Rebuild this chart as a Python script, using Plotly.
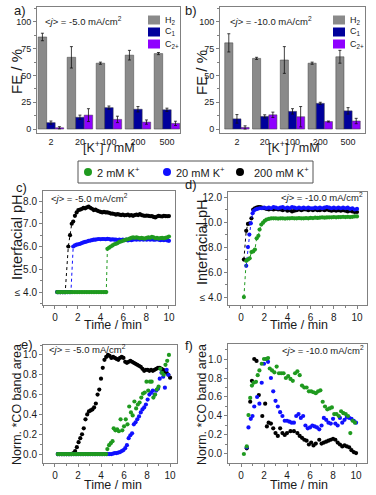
import plotly.graph_objects as go

# ---------------- data ----------------
K_CATS = ["2", "20", "100", "200", "500"]

A_H2 = [86, 67, 61.5, 69, 70.5]
A_H2_ERR = [3.5, 10, 1, 4.5, 1]
A_C1 = [6, 11, 20, 18.5, 18]
A_C1_ERR = [1.5, 2, 1.5, 2.5, 1.5]
A_C2 = [1.2, 13, 9, 6.5, 5.3]
A_C2_ERR = [1, 6, 3, 2, 2]

B_H2 = [80.5, 66, 64.5, 61.5, 67.5]
B_H2_ERR = [8.5, 1, 12.5, 1, 6]
B_C1 = [9.5, 11.8, 16.5, 24, 17]
B_C1_ERR = [4, 1.5, 2.5, 1, 3]
B_C2 = [1.5, 13.3, 11.5, 7, 7.5]
B_C2_ERR = [1.5, 2.5, 9.5, 0.5, 2.5]

# (time / min, interfacial pH) at -5.0 mA/cm2
C_BLACK = [(0.2,4.0),(0.35,4.0),(0.5,4.0),(0.65,4.0),(0.8,4.0),(0.9,4.0),(1.17,6.0),(1.32,6.5),(1.47,7.0),
           (1.6,7.1),(1.75,7.35),(1.9,7.5),(2.05,7.6),(2.2,7.62),(2.35,7.65),(2.5,7.7),(2.65,7.68),(2.8,7.72),(2.95,7.75),
           (3.1,7.7),(3.25,7.66),(3.4,7.6),(3.55,7.62),(3.7,7.58),(3.85,7.55),(4.0,7.52),(4.15,7.5),(4.3,7.52),(4.45,7.5),
           (4.6,7.5),(4.75,7.48),(4.9,7.45),(5.05,7.45),(5.2,7.43),(5.35,7.4),(5.5,7.42),(5.65,7.4),(5.8,7.38),(5.95,7.4),
           (6.1,7.37),(6.25,7.38),(6.4,7.4),(6.55,7.36),(6.7,7.38),(6.85,7.35),(7.0,7.38),(7.15,7.4),(7.3,7.38),(7.45,7.42),
           (7.6,7.38),(7.75,7.36),(7.9,7.35),(8.05,7.36),(8.2,7.35),(8.35,7.33),(8.5,7.34),(8.65,7.3),(8.8,7.28),(8.95,7.32),
           (9.1,7.35),(9.25,7.33),(9.4,7.32),(9.55,7.35),(9.7,7.34),(9.85,7.33),(10.0,7.34)]
C_BLUE = [(0.2,4.0),(0.35,4.0),(0.5,4.0),(0.65,4.0),(0.8,4.0),(0.95,4.0),(1.1,4.0),(1.25,4.0),(1.4,4.0),
          (1.6,6.0),(1.75,6.05),(1.9,6.08),(2.05,6.1),(2.2,6.12),(2.35,6.15),(2.5,6.18),(2.65,6.2),(2.8,6.22),(2.95,6.25),
          (3.1,6.26),(3.25,6.28),(3.4,6.3),(3.55,6.3),(3.7,6.32),(3.85,6.33),(4.0,6.32),(4.15,6.33),(4.3,6.33),(4.45,6.32),
          (4.6,6.34),(4.75,6.33),(4.9,6.3),(5.05,6.32),(5.2,6.3),(5.35,6.3),(5.5,6.28),(5.65,6.3),(5.8,6.28),(5.95,6.3),
          (6.1,6.28),(6.25,6.3),(6.4,6.27),(6.55,6.3),(6.7,6.28),(6.85,6.3),(7.0,6.32),(7.15,6.3),(7.3,6.32),(7.45,6.3),
          (7.6,6.33),(7.75,6.3),(7.9,6.32),(8.05,6.3),(8.2,6.33),(8.35,6.3),(8.5,6.32),(8.65,6.3),(8.8,6.3),(8.95,6.32),
          (9.1,6.3),(9.25,6.28),(9.4,6.3),(9.55,6.28),(9.7,6.3),(9.85,6.27),(10.0,6.25)]
C_GREEN = [(0.2,4.0),(0.35,4.0),(0.5,4.0),(0.65,4.0),(0.8,4.0),(0.95,4.0),(1.1,4.0),(1.25,4.0),(1.4,4.0),(1.55,4.0),
           (1.7,4.0),(1.85,4.0),(2.0,4.0),(2.15,4.0),(2.3,4.0),(2.45,4.0),(2.6,4.0),(2.75,4.0),(2.9,4.0),(3.05,4.0),
           (3.2,4.0),(3.35,4.0),(3.5,4.0),(3.65,4.0),(3.8,4.0),(3.95,4.0),(4.1,4.0),(4.25,4.0),(4.4,4.0),(4.5,4.0),
           (4.6,5.9),(4.75,5.95),(4.9,6.0),(5.05,6.05),(5.2,6.1),(5.35,6.12),(5.5,6.15),(5.65,6.2),(5.8,6.22),(5.95,6.25),
           (6.1,6.28),(6.25,6.3),(6.4,6.32),(6.55,6.35),(6.7,6.38),(6.85,6.4),(7.0,6.38),(7.15,6.4),(7.3,6.38),(7.45,6.36),
           (7.6,6.38),(7.75,6.36),(7.9,6.35),(8.05,6.38),(8.2,6.4),(8.35,6.38),(8.5,6.42),(8.65,6.4),(8.8,6.36),(8.95,6.38),
           (9.1,6.35),(9.25,6.37),(9.4,6.38),(9.55,6.36),(9.7,6.38),(9.85,6.4),(10.0,6.44)]

# (time / min, interfacial pH) at -10.0 mA/cm2
D_BLACK = [(0.25,7.0),(0.45,9.3),(0.6,9.85),(0.75,9.9),(0.9,10.3),(1.05,11.0),(1.2,11.1),(1.35,11.15),(1.5,11.2),(1.65,11.2),
           (1.8,11.15),(2.0,11.1),(2.2,11.05),(2.4,11.0),(2.6,11.05),(2.8,11.0),(3.0,11.05),(3.2,11.0),(3.4,11.0),(3.6,10.95),
           (3.8,11.0),(4.0,10.9),(4.2,10.95),(4.4,10.85),(4.6,10.9),(4.8,10.95),(5.0,11.0),(5.2,10.95),(5.4,11.0),(5.6,11.0),
           (5.8,10.95),(6.0,11.0),(6.2,10.95),(6.4,11.0),(6.6,10.95),(6.8,10.95),(7.0,11.0),(7.2,10.95),(7.4,11.0),(7.6,10.95),
           (7.8,10.9),(8.0,10.95),(8.2,10.9),(8.4,10.95),(8.6,10.9),(8.8,10.95),(9.0,10.9),(9.2,10.85),(9.4,10.9),(9.6,10.85),
           (9.8,10.8),(10.0,10.8)]
D_BLUE = [(0.45,6.5),(0.6,8.0),(0.72,9.0),(0.85,9.9),(1.0,10.7),(1.1,10.9),(1.25,11.0),(1.4,11.05),(1.6,11.1),(1.8,11.1),
          (2.0,11.15),(2.2,11.1),(2.4,11.15),(2.6,11.1),(2.8,11.2),(3.0,11.15),(3.2,11.1),(3.4,11.15),(3.6,11.2),(3.8,11.1),
          (4.0,11.15),(4.2,11.1),(4.4,11.2),(4.6,11.15),(4.8,11.1),(5.0,11.15),(5.2,11.1),(5.4,11.15),(5.6,11.1),(5.8,11.15),
          (6.0,11.1),(6.2,11.1),(6.4,11.15),(6.6,11.1),(6.8,11.15),(7.0,11.1),(7.2,11.15),(7.4,11.2),(7.6,11.15),(7.8,11.1),
          (8.0,11.15),(8.2,11.1),(8.4,11.15),(8.6,11.1),(8.8,11.15),(9.0,11.1),(9.2,11.15),(9.4,11.05),(9.6,11.1),(9.8,11.0),
          (10.0,11.05)]
D_GREEN = [(0.25,4.0),(0.45,6.9),(0.6,7.0),(0.75,7.1),(0.9,7.6),(1.05,7.65),(1.2,7.8),(1.35,8.7),(1.5,8.9),(1.6,9.4),
           (1.75,9.8),(1.9,9.95),(2.05,10.1),(2.2,10.2),(2.4,10.25),(2.6,10.3),(2.8,10.3),(3.0,10.3),(3.2,10.28),(3.4,10.3),
           (3.6,10.3),(3.8,10.28),(4.0,10.3),(4.2,10.3),(4.4,10.32),(4.6,10.3),(4.8,10.3),(5.0,10.32),(5.2,10.3),(5.4,10.3),
           (5.6,10.32),(5.8,10.3),(6.0,10.33),(6.2,10.32),(6.4,10.35),(6.6,10.33),(6.8,10.35),(7.0,10.38),(7.2,10.35),(7.4,10.37),
           (7.6,10.38),(7.8,10.38),(8.0,10.4),(8.2,10.38),(8.4,10.4),(8.6,10.4),(8.8,10.42),(9.0,10.4),(9.2,10.42),(9.4,10.4),
           (9.6,10.42),(9.8,10.45),(10.0,10.45)]

# (time / min, normalised *CO band area) at -5.0 mA/cm2
E_BLACK = [(0.25,0),(0.4,0),(0.55,0),(0.7,0),(0.85,0),(1.0,0),(1.15,0),(1.3,0),(1.45,0),(1.6,0.01),
           (1.75,0.03),(1.9,0.07),(2.05,0.12),(2.2,0.16),(2.35,0.2),(2.5,0.26),(2.65,0.35),(2.8,0.4),(2.95,0.43),(3.1,0.44),
           (3.25,0.45),(3.4,0.47),(3.55,0.51),(3.7,0.6),(3.85,0.65),(4.0,0.76),(4.15,0.87),(4.3,0.95),(4.45,0.98),(4.6,1.0),
           (4.75,0.99),(4.9,0.97),(5.05,0.98),(5.2,0.97),(5.35,0.96),(5.5,0.95),(5.65,0.97),(5.8,0.98),(5.95,0.97),(6.1,0.93),
           (6.25,0.92),(6.4,0.93),(6.55,0.94),(6.7,0.93),(6.85,0.92),(7.0,0.91),(7.15,0.9),(7.3,0.89),(7.45,0.88),(7.6,0.86),
           (7.75,0.84),(7.9,0.85),(8.05,0.85),(8.2,0.84),(8.35,0.85),(8.5,0.84),(8.65,0.85),(8.8,0.86),(8.95,0.87),(9.1,0.87),
           (9.25,0.86),(9.4,0.85),(9.55,0.83),(9.7,0.82),(9.85,0.8),(10.0,0.77)]
E_BLUE = [(0.25,0),(0.4,0),(0.55,0),(0.7,0),(0.85,0),(1.0,0),(1.15,0),(1.3,0),(1.45,0),(1.6,0),
          (1.75,0),(1.9,0),(2.05,0),(2.2,0),(2.35,0),(2.5,0),(2.65,0),(2.8,0),(2.95,0),(3.1,0),
          (3.25,0),(3.4,0),(3.55,0),(3.7,0),(3.85,0),(4.0,0),(4.15,0),(4.3,0),(4.45,0),(4.6,0),
          (4.75,0.0),(4.9,0.0),(5.05,0.005),(5.2,0.01),(5.35,0.01),(5.5,0.015),(5.65,0.02),(5.8,0.03),(5.95,0.04),(6.1,0.06),
          (6.25,0.09),(6.4,0.16),(6.55,0.19),(6.7,0.21),(6.85,0.3),(7.0,0.32),(7.15,0.35),(7.3,0.38),(7.45,0.42),(7.6,0.45),
          (7.75,0.47),(7.9,0.5),(8.05,0.55),(8.2,0.6),(8.35,0.62),(8.5,0.64),(8.65,0.6),(8.8,0.64),(8.95,0.66),(9.1,0.76),
          (9.25,0.82),(9.4,0.78),(9.55,0.67),(9.7,0.85),(9.85,0.8)]
E_GREEN = [(0.25,0),(0.4,0),(0.55,0),(0.7,0),(0.85,0),(1.0,0),(1.15,0),(1.3,0),(1.45,0),(1.6,0),
           (1.75,0),(1.9,0),(2.05,0),(2.2,0),(2.35,0),(2.5,0),(2.65,0),(2.8,0),(2.95,0),(3.1,0),
           (3.25,0),(3.4,0),(3.55,0),(3.7,0),(3.85,0),(4.0,0),(4.15,0),(4.3,0),(4.45,0),
           (4.55,0.05),(4.7,0.09),(4.85,0.11),(5.0,0.13),(5.1,0.26),(5.25,0.24),(5.4,0.25),(5.55,0.23),(5.7,0.35),(5.85,0.24),
           (6.0,0.28),(6.15,0.35),(6.3,0.3),(6.45,0.48),(6.6,0.42),(6.75,0.39),(6.9,0.53),(7.05,0.46),(7.2,0.5),(7.35,0.52),
           (7.5,0.57),(7.65,0.61),(7.8,0.62),(7.95,0.73),(8.1,0.64),(8.25,0.73),(8.4,0.73),(8.55,0.57),(8.7,0.6),(8.85,0.65),
           (9.0,0.68),(9.15,0.86),(9.3,0.82),(9.45,0.8),(9.6,0.9),(9.75,0.94),(9.9,1.0)]

# (time / min, normalised *CO band area) at -10.0 mA/cm2
F_BLACK = [(0.5,0.06),(0.8,0.55),(0.95,0.77),(1.15,1.0),(1.35,0.98),(1.55,0.62),(1.85,0.4),(2.1,0.53),(2.25,0.29),(2.4,0.33),
           (2.6,0.32),(2.8,0.27),(3.0,0.22),(3.2,0.19),(3.4,0.27),(3.6,0.22),(3.8,0.2),(4.0,0.22),(4.3,0.24),(4.6,0.24),
           (4.9,0.22),(5.1,0.19),(5.3,0.17),(5.5,0.15),(5.7,0.14),(5.9,0.1),(6.1,0.12),(6.3,0.09),(6.5,0.11),(6.8,0.15),
           (7.0,0.11),(7.2,0.12),(7.4,0.13),(7.6,0.14),(7.8,0.15),(8.0,0.16),(8.2,0.15),(8.4,0.12),(8.6,0.1),(8.8,0.08),
           (9.0,0.09),(9.2,0.08),(9.4,0.07),(9.6,0.04),(9.8,0.02),(10.0,0.01)]
F_BLUE = [(0.5,0.07),(0.65,0.28),(0.85,0.37),(1.0,0.4),(1.15,0.5),(1.4,0.6),(1.6,0.53),(1.8,0.75),(2.0,0.95),(2.2,1.0),
          (2.35,0.97),(2.6,0.8),(2.8,0.66),(3.0,0.56),(3.2,0.5),(3.4,0.44),(3.6,0.4),(3.8,0.35),(4.0,0.35),(4.2,0.34),
          (4.4,0.33),(4.6,0.33),(4.8,0.4),(5.0,0.42),(5.2,0.38),(5.4,0.4),(5.6,0.3),(5.8,0.27),(6.0,0.28),(6.2,0.3),
          (6.4,0.29),(6.6,0.28),(6.8,0.26),(7.0,0.3),(7.2,0.38),(7.4,0.36),(7.6,0.33),(7.8,0.32),(8.0,0.37),(8.2,0.32),
          (8.4,0.3),(8.6,0.38),(8.8,0.33),(9.0,0.36),(9.2,0.39),(9.4,0.38),(9.6,0.37),(9.8,0.35),(10.0,0.33)]
F_GREEN = [(0.25,0.0),(0.5,0.08),(0.65,0.41),(0.8,0.59),(0.95,0.72),(1.1,0.75),(1.3,0.76),(1.45,0.83),(1.6,0.88),(1.8,0.95),
           (2.0,1.0),(2.2,1.0),(2.35,1.01),(2.5,0.9),(2.7,0.88),(2.9,0.86),(3.1,0.92),(3.3,0.85),(3.5,0.85),(3.7,0.85),
           (3.9,0.8),(4.1,0.82),(4.3,0.79),(4.5,0.77),(4.7,0.85),(4.9,0.87),(5.1,0.83),(5.3,0.72),(5.5,0.7),(5.7,0.7),
           (5.9,0.66),(6.1,0.66),(6.3,0.65),(6.5,0.64),(6.7,0.66),(6.9,0.67),(7.1,0.55),(7.3,0.5),(7.5,0.47),(7.7,0.48),
           (7.9,0.49),(8.1,0.42),(8.3,0.42),(8.5,0.4),(8.7,0.45),(8.9,0.43),(9.1,0.42),(9.3,0.4),(9.5,0.22),(9.7,0.35),
           (9.9,0.33)]

SERIES_NAMES = ["2 mM K<sup>+</sup>", "20 mM K<sup>+</sup>", "200 mM K<sup>+</sup>"]

# ---------------- style ----------------
W, H = 376, 495
FONT = "Arial, 'Liberation Sans', Helvetica, sans-serif"
TXT = "#1a1a1a"
AXC = "#808080"
GRAY, NAVY, VIOLET = "#8a8a8a", "#00009c", "#8f00ff"
GREEN, BLUE, BLACK = "#1f9a1f", "#1010ff", "#000000"


def fx(px):
    return px / W


def fy(py):
    return 1 - py / H


fig = go.Figure()

# ---- bar panels a, b ----
bar_sets = [
    ("x", "y", [(A_H2, A_H2_ERR, GRAY, "H2"), (A_C1, A_C1_ERR, NAVY, "C1"), (A_C2, A_C2_ERR, VIOLET, "C2+")]),
    ("x2", "y2", [(B_H2, B_H2_ERR, GRAY, "H2"), (B_C1, B_C1_ERR, NAVY, "C1"), (B_C2, B_C2_ERR, VIOLET, "C2+")]),
]
for xa, ya, sets in bar_sets:
    for vals, errs, col, nm in sets:
        fig.add_trace(go.Bar(
            x=K_CATS, y=vals, name=nm, xaxis=xa, yaxis=ya, showlegend=False,
            marker=dict(color=col, line=dict(color="#404040", width=0.5)),
            error_y=dict(type="data", array=errs, color="#111", thickness=0.8, width=1.5),
        ))

# ---- scatter panels c-f ----
def add_series(data, color, xa, ya, lines):
    t = [p[0] for p in data]
    v = [p[1] for p in data]
    fig.add_trace(go.Scatter(
        x=t, y=v, xaxis=xa, yaxis=ya, showlegend=False,
        mode="lines+markers" if lines else "markers",
        line=dict(color=color, width=1, dash="dot"),
        marker=dict(color=color, size=4.2),
    ))

for xa, ya, trio, lines in [("x3", "y3", (C_BLACK, C_BLUE, C_GREEN), True),
                            ("x4", "y4", (D_BLACK, D_BLUE, D_GREEN), True),
                            ("x5", "y5", (E_BLACK, E_BLUE, E_GREEN), False),
                            ("x6", "y6", (F_BLACK, F_BLUE, F_GREEN), False)]:
    for data, col in zip(trio, (BLACK, BLUE, GREEN)):
        add_series(data, col, xa, ya, lines)


def ax(domain, rng, **kw):
    d = dict(domain=domain, range=rng, showline=True, linecolor=AXC, linewidth=1, mirror=True,
             ticks="outside", ticklen=3, tickcolor=AXC, tickwidth=1, showgrid=False, zeroline=False,
             tickfont=dict(size=9, color=TXT, family=FONT), fixedrange=True)
    d.update(kw)
    return d


minor_x = dict(ticks="outside", ticklen=2, tickcolor=AXC, dtick=1, tick0=0)
TF10 = dict(size=10, color=TXT, family=FONT)

layout = dict(
    width=W, height=H, margin=dict(l=0, r=0, t=0, b=0),
    paper_bgcolor="white", plot_bgcolor="white",
    font=dict(family=FONT, color=TXT),
    barmode="group", bargap=0.12, bargroupgap=0,
    showlegend=False,
    xaxis=ax([fx(37), fx(180)], [-0.48, 4.45], type="category", anchor="y", ticks=""),
    yaxis=ax([fy(133), fy(7)], [-3.7, 114], anchor="x", tickvals=[0, 25, 50, 75, 100],
             minor=dict(ticks="outside", ticklen=2, tickcolor=AXC, dtick=12.5, tick0=0)),
    xaxis2=ax([fx(220), fx(365)], [-0.61, 4.61], type="category", anchor="y2", ticks=""),
    yaxis2=ax([fy(133), fy(7)], [-3.7, 114], anchor="x2", tickvals=[0, 25, 50, 75, 100],
              minor=dict(ticks="outside", ticklen=2, tickcolor=AXC, dtick=12.5, tick0=0)),
    xaxis3=ax([fx(43), fx(175)], [-1.05, 10.53], anchor="y3", tickvals=[0, 2, 4, 6, 8, 10],
              tickfont=TF10, minor=minor_x),
    yaxis3=ax([fy(305), fy(191)], [3.43, 8.44], anchor="x3", tickvals=[4, 5, 6, 7, 8],
              ticktext=["≤ 4.0", "5.0", "6.0", "7.0", "8.0"], tickfont=TF10,
              minor=dict(ticks="outside", ticklen=2, tickcolor=AXC, dtick=0.5, tick0=0)),
    xaxis4=ax([fx(228), fx(367)], [-1.12, 10.86], anchor="y4", tickvals=[0, 2, 4, 6, 8, 10],
              tickfont=TF10, minor=minor_x),
    yaxis4=ax([fy(305), fy(192)], [3.37, 12.4], anchor="x4", tickvals=[4, 6, 8, 10, 12],
              ticktext=["≤ 4.0", "6.0", "8.0", "10.0", "12.0"], tickfont=TF10,
              minor=dict(ticks="outside", ticklen=2, tickcolor=AXC, dtick=1, tick0=0)),
    xaxis5=ax([fx(43), fx(177)], [-1.04, 10.6], anchor="y5", tickvals=[0, 2, 4, 6, 8, 10],
              tickfont=TF10, minor=minor_x),
    yaxis5=ax([fy(463), fy(345)], [-0.09, 1.1], anchor="x5", tickvals=[0, 0.2, 0.4, 0.6, 0.8, 1.0],
              tickformat=".1f", tickfont=TF10,
              minor=dict(ticks="outside", ticklen=2, tickcolor=AXC, dtick=0.1, tick0=0)),
    xaxis6=ax([fx(228), fx(367)], [-1.13, 10.95], anchor="y6", tickvals=[0, 2, 4, 6, 8, 10],
              tickfont=TF10, minor=minor_x),
    yaxis6=ax([fy(463), fy(344)], [-0.095, 1.158], anchor="x6", tickvals=[0, 0.2, 0.4, 0.6, 0.8, 1.0],
              tickformat=".1f", tickfont=TF10,
              minor=dict(ticks="outside", ticklen=2, tickcolor=AXC, dtick=0.1, tick0=0)),
)
fig.update_layout(**layout)

ann = []
shapes = []


def text(px, py, s, size, xanchor="center", angle=0, yanchor="middle"):
    ann.append(dict(x=fx(px), y=fy(py), xref="paper", yref="paper", text=s, showarrow=False,
                    xanchor=xanchor, yanchor=yanchor, textangle=angle,
                    font=dict(size=size, color=TXT, family=FONT)))


# panel letters
for px, py, s in [(20, 10, "a)"), (191, 10, "b)"), (21, 187, "c)"), (191, 185, "d)"), (27, 344, "e)"), (189, 345, "f)")]:
    text(px, py, s, 13)

J5 = "&lt;<i>j</i>&gt; = -5.0 mA/cm<sup>2</sup>"
J10 = "&lt;<i>j</i>&gt; = -10.0 mA/cm<sup>2</sup>"
text(43, 21, J5, 9.5, xanchor="left")
text(228, 21, J10, 9.5, xanchor="left")
text(49, 198, J5, 9.5, xanchor="left")
text(365, 197, J10, 9.5, xanchor="right")
text(47, 349, J5, 9.5, xanchor="left")
text(366, 350, J10, 9.5, xanchor="right")

# axis titles
text(16, 72, "FE / %", 15, angle=-90)
text(201, 72, "FE / %", 15, angle=-90)
text(109, 147, "[K<sup>+</sup>] / mM", 12.5)
text(294, 147, "[K<sup>+</sup>] / mM", 12.5)
text(17, 238, "Interfacial pH", 14.5, angle=-90)
text(202, 243, "Interfacial pH", 14.5, angle=-90)
text(17, 405, "Norm. *CO band area", 12.5, angle=-90)
text(202, 405, "Norm. *CO band area", 12.5, angle=-90)
for px, py in [(113, 325), (299, 325), (113, 485), (299, 485)]:
    text(px, py, "Time / min", 12.5)

# bar legends (inside a and b)
for x0 in (148, 333):
    for i, (col, lab) in enumerate([(GRAY, "H<sub>2</sub>"), (NAVY, "C<sub>1</sub>"), (VIOLET, "C<sub>2+</sub>")]):
        yc = 20 + i * 12
        shapes.append(dict(type="rect", xref="paper", yref="paper", x0=fx(x0), x1=fx(x0 + 12),
                           y0=fy(yc + 4.5), y1=fy(yc - 4.5), fillcolor=col, line=dict(width=0)))
        text(x0 + 15, yc, lab, 9, xanchor="left")

# K+ legend (shared by c-f)
shapes.append(dict(type="rect", xref="paper", yref="paper", x0=fx(78), x1=fx(313), y0=fy(183), y1=fy(161),
                   line=dict(color="#555", width=1), fillcolor="rgba(0,0,0,0)"))
for (dx, tx), col, lab in zip([(88, 95), (167, 174), (240, 252)], (GREEN, BLUE, BLACK), SERIES_NAMES):
    shapes.append(dict(type="circle", xref="paper", yref="paper", x0=fx(dx - 4), x1=fx(dx + 4),
                       y0=fy(172 + 4), y1=fy(172 - 4), fillcolor=col, line=dict(width=0)))
    text(tx, 172, lab, 11, xanchor="left")

fig.update_layout(annotations=ann, shapes=shapes)
fig.write_html(
    "out.html",
    config={"displayModeBar": False, "staticPlot": True},
    post_script="document.body.style.margin='0';document.body.style.overflow='hidden';",
)
